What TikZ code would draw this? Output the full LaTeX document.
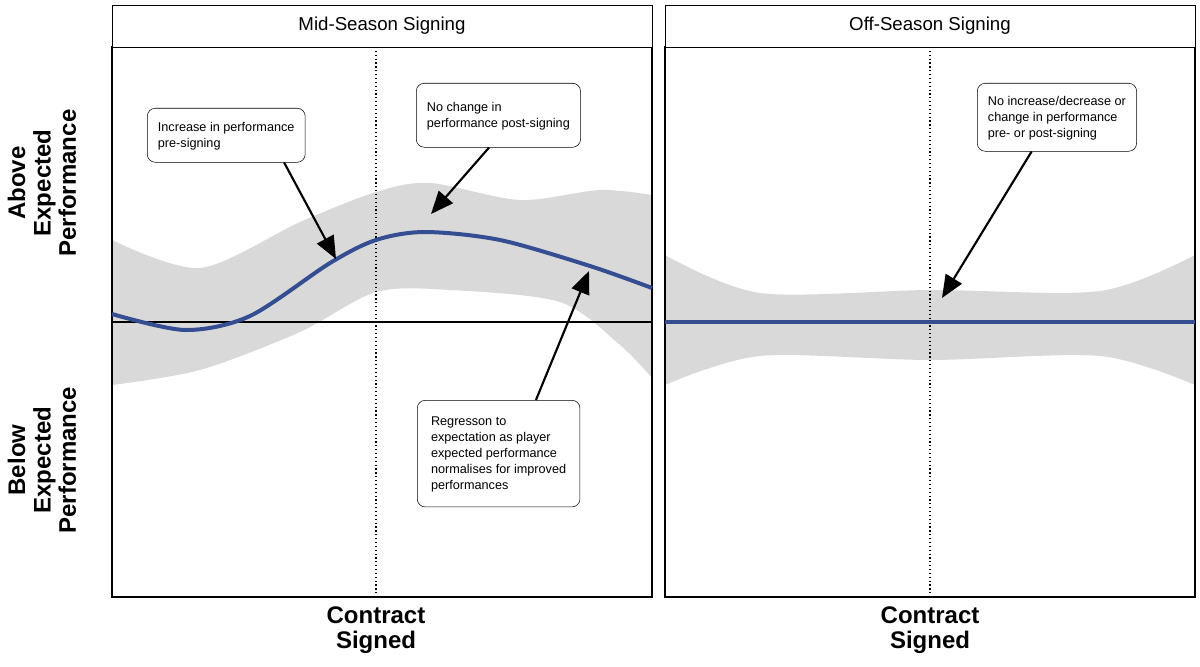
\documentclass[tikz,border=0pt]{standalone}
\usepackage{fontspec}
\setmainfont{Liberation Sans}
\usetikzlibrary{arrows.meta}
\definecolor{band}{RGB}{217,217,217}
\definecolor{curve}{RGB}{52,78,145}
\begin{document}
\begin{tikzpicture}[x=0.75pt,y=-0.75pt,
  callout/.style={draw,rounded corners=6pt,fill=white,align=left,font=\fontsize{9.5}{12}\selectfont,inner xsep=8pt,inner ysep=6pt,anchor=north west,text depth=0pt},
  header/.style={draw,fill=white,minimum height=31.5pt,font=\fontsize{14}{16}\selectfont},
  axlab/.style={align=center,font=\fontsize{18}{19}\selectfont\bfseries},
  pointer/.style={-{Triangle[length=17pt,width=14pt]},line width=1.6pt},
  bluecurve/.style={curve,line width=3pt}]
\useasboundingbox (0,0) rectangle (1200,667);
% bands
\fill[band] plot[smooth] coordinates {(112,240)(200,268)(300,222)(376,192)(430,183)(520,200)(600,190)(652,195)}
  -- plot[smooth] coordinates {(652,378)(620,345)(560,302)(450,290)(376,292)(300,332)(200,370)(112,385)} -- cycle;
\fill[band] plot[smooth] coordinates {(665,255)(760,293)(930,290)(1100,291)(1195,255)}
  -- plot[smooth] coordinates {(1195,385)(1100,356)(930,360)(760,356)(665,385)} -- cycle;
% panels
\draw[line width=1pt] (112,47) rectangle (652,597);
\draw[line width=1pt] (665,47) rectangle (1195,597);
\node[header,minimum width=405pt] (h1) at (382,26) {Mid-Season Signing};
\node[header,minimum width=397.5pt] (h2) at (930,26) {Off-Season Signing};
\draw[dotted,line width=0.9pt] (376,47) -- (376,597);
\draw[dotted,line width=0.9pt] (930,47) -- (930,597);
\draw[line width=0.8pt] (112,322) -- (652,322);
% curves
\draw[bluecurve] plot[smooth] coordinates {(112,314)(185,330)(250,316)(330,263)(376,240)(425,232)(500,240)(590,266)(652,288)};
\draw[bluecurve] (665,322) -- (1195,322);
% callouts
\node[callout,minimum width=102pt,minimum height=40.5pt] (c1) at (147,108) {Increase in performance\\pre-signing};
\node[callout,minimum width=104pt,minimum height=48pt] (c2) at (416,83) {No change in\\performance post-signing};
\node[callout,minimum width=105pt,minimum height=51pt] (c3) at (977,83) {No increase/decrease or\\change in performance\\pre- or post-signing};
\node[callout,minimum width=122pt,minimum height=80pt] (c4) at (417,400) {Regresson to\\expectation as player\\expected performance\\normalises for improved\\performances};
\coordinate (t1) at (336,259);
\coordinate (t2) at (431,214);
\coordinate (t3) at (942,298);
\coordinate (t4) at (589,271);
\draw[pointer] (c1.south east) ++(-16pt,0) -- (t1);
\draw[pointer] (c2.south) ++(-7pt,0) -- (t2);
\draw[pointer] (c3.south) ++(-19pt,0) -- (t3);
\draw[pointer] (c4.north) ++(28pt,0) -- (t4);
% axis labels
\node[axlab,rotate=90] (ya) at (42,183) {Above\\Expected\\Performance};
\node[axlab,rotate=90] (yb) at (42,460) {Below\\Expected\\Performance};
\node[axlab] (x1) at (376,630) {Contract\\Signed};
\node[axlab] (x2) at (930,630) {Contract\\Signed};
\end{tikzpicture}
\end{document}
